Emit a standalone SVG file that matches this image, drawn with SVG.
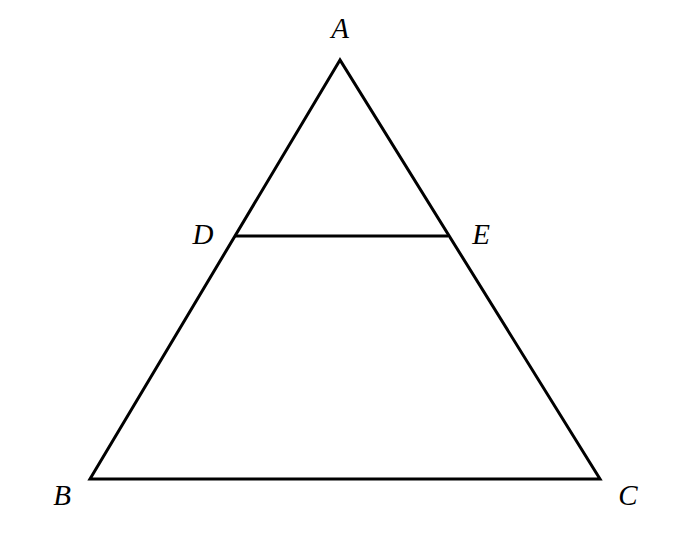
<svg xmlns="http://www.w3.org/2000/svg" width="680" height="540" viewBox="0 0 680 540">
<style>
.ln{stroke:#000;stroke-width:3;fill:none;stroke-linejoin:miter}
.lb{font-family:"Liberation Serif","DejaVu Serif",serif;font-style:italic;font-size:29px;fill:#000;text-anchor:middle}
</style>
<rect width="680" height="540" fill="#fff"/>
<g id="connectors">
<polygon class="ln" points="340,60 90,479 600,479"/>
<line class="ln" x1="235" y1="236" x2="448" y2="236"/>
</g>
<g id="A"><text class="lb" x="340" y="38">A</text></g>
<g id="B"><text class="lb" x="62" y="505">B</text></g>
<g id="C"><text class="lb" x="628" y="505">C</text></g>
<g id="D"><text class="lb" x="203" y="244">D</text></g>
<g id="E"><text class="lb" x="481" y="244">E</text></g>
</svg>
